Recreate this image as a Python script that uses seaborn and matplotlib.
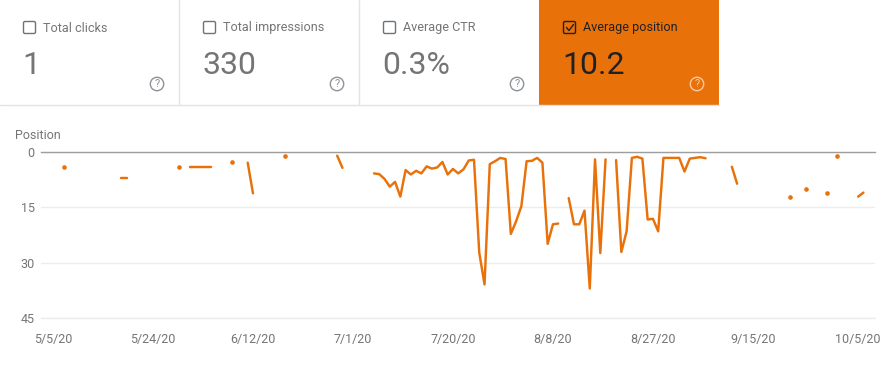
import pandas as pd
import matplotlib.pyplot as plt
from matplotlib.patches import Rectangle, Circle, FancyBboxPatch
import seaborn as sns

# search console cards
card_labels = ["Total clicks", "Total impressions", "Average CTR", "Average position"]
card_values = ["1", "330", "0.3%", "10.2"]
active_card = 3

# days since 5/5/20 which have a value, gaps = no data
days = [2, 13, 14, 24, 26, 27, 28, 29, 30, 34, 37, 38, 44, 54, 55,
        61, 62, 63, 64, 65, 66, 67, 68, 69, 70, 71, 72, 73, 74, 75, 76,
        77, 78, 79, 80, 81, 82, 83, 84, 85, 86, 87, 88, 89, 90, 91, 92,
        93, 94, 95, 96, 98, 99, 100, 101, 102, 103, 104, 105,
        107, 108, 109, 110, 111, 112, 113, 114, 115, 116, 117, 118, 119,
        120, 121, 122, 123, 124, 129, 130, 140, 143, 147, 149, 153, 154]
position = [4.1, 7.1, 7.1, 4.1, 4.1, 4.1, 4.1, 4.1, 4.1, 2.6, 2.9, 11.2, 1.1, 1.0, 4.3,
            5.8, 6.0, 7.3, 9.4, 8.1, 12.1, 4.9, 6.1, 5.1, 5.8, 3.9, 4.5, 4.2, 2.7, 6.1, 4.6,
            5.8, 4.7, 2.3, 2.1, 27.3, 35.9, 3.3, 2.5, 1.6, 1.9, 22.2, 18.8, 14.7, 2.5, 2.4, 1.6,
            2.9, 24.9, 19.6, 19.4, 12.5, 19.6, 19.6, 15.9, 37.0, 2.0, 27.4, 2.0,
            2.2, 27.1, 21.5, 1.6, 1.3, 1.8, 18.3, 18.1, 21.5, 1.6, 1.6, 1.6, 1.6,
            5.3, 1.8, 1.6, 1.4, 1.7, 4.0, 8.6, 12.1, 10.1, 11.1, 1.0, 12.1, 11.0]

tick_dates = ["2020-05-05", "2020-05-24", "2020-06-12", "2020-07-01", "2020-07-20",
              "2020-08-08", "2020-08-27", "2020-09-15", "2020-10-05"]
tick_labels = ["5/5/20", "5/24/20", "6/12/20", "7/1/20", "7/20/20",
               "8/8/20", "8/27/20", "9/15/20", "10/5/20"]
y_ticks = [0, 15, 30, 45]

ORANGE = "#e8710a"
GRAY = "#757575"

sns.set_theme(style="white")
plt.rcParams["font.family"] = ["Roboto", "DejaVu Sans"]

W, H = 888, 367
fig = plt.figure(figsize=(W / 100, H / 100), dpi=100, facecolor="white")

# chart area, in pixels: x 41-875, y 152-318
ax = fig.add_axes([41 / W, 1 - 318 / H, (875 - 41) / W, 166 / H])

df = pd.DataFrame({"day": days, "position": position})
df["date"] = pd.Timestamp("2020-05-05") + pd.to_timedelta(df["day"], unit="D")
df["segment"] = (df["day"].diff() != 1).cumsum()
seg_size = df.groupby("segment")["day"].transform("size")

sns.lineplot(data=df[seg_size > 1], x="date", y="position", units="segment",
             estimator=None, color=ORANGE, linewidth=1.75, ax=ax, legend=False)
sns.scatterplot(data=df[seg_size == 1], x="date", y="position", color=ORANGE,
                s=11, linewidth=0, ax=ax, legend=False)

start = pd.Timestamp("2020-05-05")
ax.set_xlim(start - pd.Timedelta(days=2.28), start + pd.Timedelta(days=156.2))
ax.set_ylim(45, 0)
ax.set_yticks(y_ticks)
ax.set_xticks(pd.to_datetime(tick_dates))
ax.set_xticklabels(tick_labels)
ax.set_xlabel("")
ax.set_ylabel("")
ax.tick_params(axis="x", length=0, pad=11, labelsize=9, labelcolor=GRAY)
ax.tick_params(axis="y", length=0, pad=4.5, labelsize=9, labelcolor=GRAY)
ax.xaxis.grid(False)
ax.yaxis.grid(True, color="#ececec", linewidth=1)
ax.set_axisbelow(True)
ax.spines["left"].set_visible(False)
ax.spines["right"].set_visible(False)
ax.spines["top"].set_color("#9e9e9e")
ax.spines["top"].set_linewidth(1)
ax.spines["bottom"].set_color("#ececec")
ax.spines["bottom"].set_linewidth(1)

# overlay in pixel coords for the cards on top
ov = fig.add_axes([0, 0, 1, 1])
ov.set_xlim(0, W)
ov.set_ylim(H, 0)
ov.axis("off")
ov.patch.set_alpha(0)

card_w = 180
ov.plot([0, 719], [104.5, 104.5], color="#e3e3e3", linewidth=1)
for i, (lab, val) in enumerate(zip(card_labels, card_values)):
    x0 = -2 + i * card_w
    on = i == active_card
    if on:
        ov.add_patch(Rectangle((x0 + 1, 0), card_w, 105, color=ORANGE, linewidth=0))
    elif i > 0:
        ov.plot([x0 + 0.5, x0 + 0.5], [0, 104], color="#e3e3e3", linewidth=1)
    txt = "#202124" if on else "#757575"
    edge = "#202124" if on else "#6f7377"
    ov.add_patch(FancyBboxPatch((x0 + 25.5, 21.5), 12, 12, boxstyle="round,pad=0,rounding_size=1.5",
                                fill=False, edgecolor=edge, linewidth=1))
    if on:
        ov.plot([x0 + 28.5, x0 + 31, x0 + 35.5], [27.5, 30.5, 24.5], color=edge, linewidth=1)
    ov.text(x0 + 45, 31.5, lab, color=txt, fontsize=9.1, ha="left", va="baseline")
    ov.text(x0 + 24, 73.5, val, color=txt, fontsize=23, ha="left", va="baseline")
    help_col = "#f9c9a0" if on else "#8f9397"
    ov.add_patch(Circle((x0 + 159, 84), 6.7, fill=False, edgecolor=help_col, linewidth=1))
    ov.text(x0 + 159, 84.3, "?", color=help_col, fontsize=8, ha="center", va="center")

ov.text(15, 135.5, "Position", color=GRAY, fontsize=9, ha="left", va="center")

fig.savefig("out.png", dpi=100)
